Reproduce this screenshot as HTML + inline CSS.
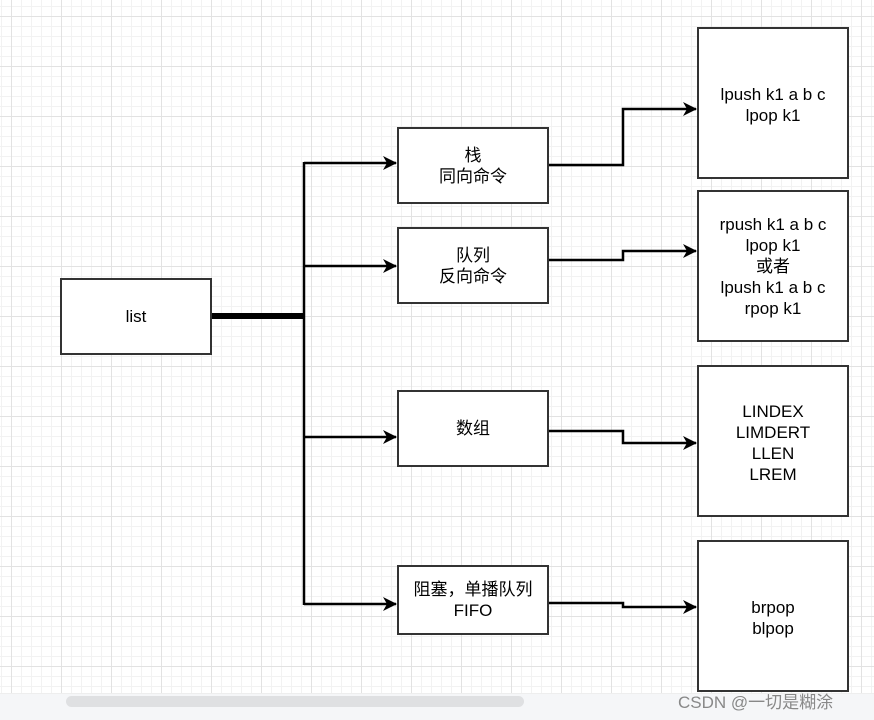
<!DOCTYPE html>
<html><head><meta charset="utf-8"><style>
html,body{margin:0;padding:0}
body{width:874px;height:719px;position:relative;overflow:hidden;background:#fff;font-family:"Liberation Sans","Noto Sans CJK SC",sans-serif;}
.grid{position:absolute;left:0;top:0;width:874px;height:693px;
background-image:linear-gradient(#e2e2e2 1px,transparent 1px),linear-gradient(90deg,#e2e2e2 1px,transparent 1px),linear-gradient(#f2f2f2 1px,transparent 1px),linear-gradient(90deg,#f2f2f2 1px,transparent 1px);
background-size:50px 50px,50px 50px,10px 10px,10px 10px;background-position:0 16px,11px 0,0 6px,1px 0;}
.b{position:absolute;box-sizing:border-box;border:2px solid #333;background:#fff;display:flex;align-items:center;justify-content:center;text-align:center;font-size:17px;line-height:21px;color:#000}
.bar{position:absolute;left:0;top:693px;width:874px;height:26px;background:#f5f6f8;border-top:1px solid #eee}
.thumb{position:absolute;left:66px;top:696px;width:458px;height:11px;border-radius:6px;background:#dfe0e2}
.wm{position:absolute;left:678px;top:688px;font-size:17px;color:#888;}
</style></head><body>
<div class="grid"></div>
<svg style="position:absolute;left:0;top:0" width="874" height="719">
<defs><marker id="a" markerWidth="14" markerHeight="14" refX="13" refY="7" orient="auto" markerUnits="userSpaceOnUse"><path d="M0,0 L14,7 L0,14 L4,7z" fill="#000"/></marker></defs>
<g fill="none" stroke="#000" stroke-width="2.5">
<line x1="211" y1="316" x2="304" y2="316" stroke-width="6"/>
<line x1="304" y1="162" x2="304" y2="605"/>
<path d="M304,163 H396" marker-end="url(#a)"/>
<path d="M304,266 H396" marker-end="url(#a)"/>
<path d="M304,437 H396" marker-end="url(#a)"/>
<path d="M304,604 H396" marker-end="url(#a)"/>
<path d="M548,165 H623 V109 H696" marker-end="url(#a)"/>
<path d="M548,260 H623 V251 H696" marker-end="url(#a)"/>
<path d="M548,431 H623 V443 H696" marker-end="url(#a)"/>
<path d="M548,603 H623 V607 H696" marker-end="url(#a)"/>
</g></svg>
<div class="b" style="left:60px;top:278px;width:152px;height:77px">list</div>
<div class="b" style="left:397px;top:127px;width:152px;height:77px">栈<br>同向命令</div>
<div class="b" style="left:397px;top:227px;width:152px;height:77px">队列<br>反向命令</div>
<div class="b" style="left:397px;top:390px;width:152px;height:77px">数组</div>
<div class="b" style="left:397px;top:565px;width:152px;height:70px">阻塞，单播队列<br>FIFO</div>
<div class="b" style="left:697px;top:27px;width:152px;height:152px;align-items:flex-start;padding-top:55px">lpush k1 a b c<br>lpop k1</div>
<div class="b" style="left:697px;top:190px;width:152px;height:152px">rpush k1 a b c<br>lpop k1<br>或者<br>lpush k1 a b c<br>rpop k1</div>
<div class="b" style="left:697px;top:365px;width:152px;height:152px;align-items:flex-start;padding-top:34px">LINDEX<br>LIMDERT<br>LLEN<br>LREM</div>
<div class="b" style="left:697px;top:540px;width:152px;height:152px;align-items:flex-start;padding-top:55px">brpop<br>blpop</div>
<div class="bar"></div><div class="thumb"></div>
<div class="wm">CSDN @一切是糊涂</div>
</body></html>
